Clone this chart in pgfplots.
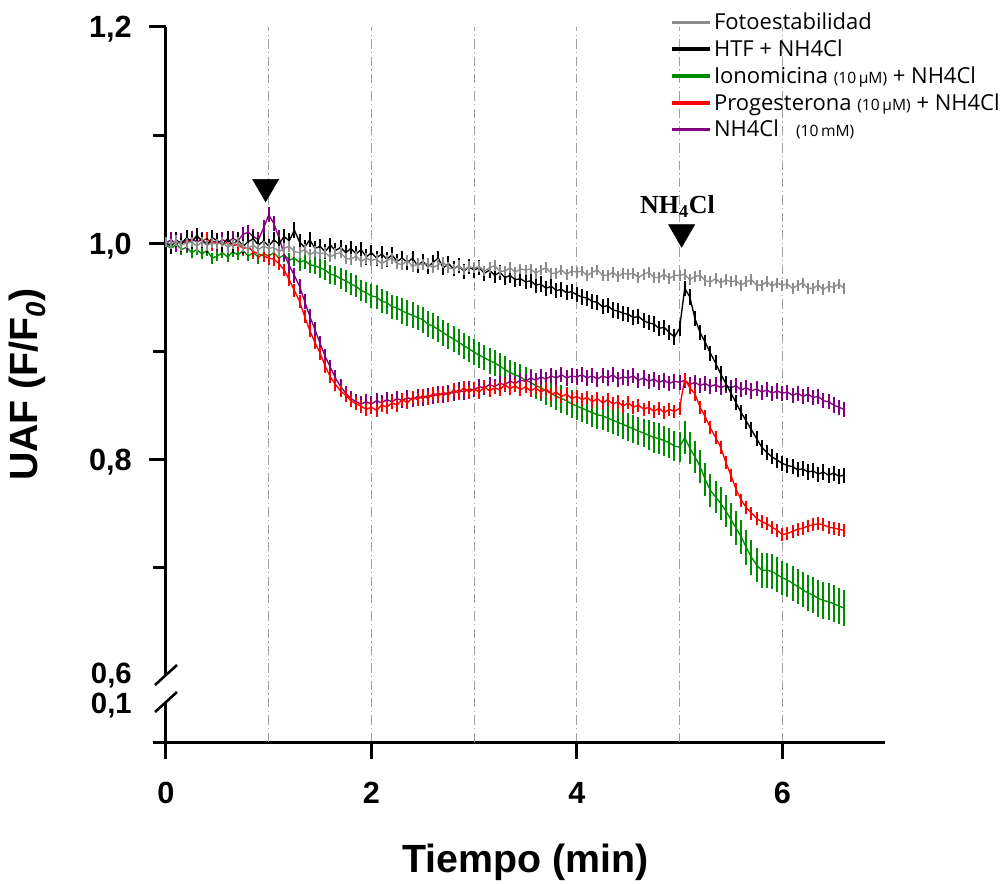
\documentclass[border=0pt]{standalone}
\usepackage{fontspec}
\setmainfont{Liberation Sans}
\newfontfamily\legfont{Open Sans}
\newfontfamily\serifb{Liberation Serif}
\usepackage{pgfplots}
\usepackage{pgfplotstable}
\pgfplotsset{compat=1.18}

\definecolor{cgray}{RGB}{140,140,140}
\definecolor{cgreen}{RGB}{0,140,0}
\definecolor{cred}{RGB}{255,0,0}
\definecolor{cpurple}{RGB}{128,0,128}

% Fotoestabilidad
\pgfplotstableread{
x y
0.00 1.001
0.05 0.999
0.10 1.002
0.15 0.998
0.20 1.000
0.25 1.001
0.30 0.997
0.35 1.001
0.40 0.998
0.45 1.000
0.50 0.999
0.55 1.001
0.60 0.996
0.65 0.999
0.70 1.001
0.75 0.997
0.80 0.995
0.85 0.998
0.90 0.994
0.95 0.997
1.00 0.995
1.05 0.996
1.10 0.992
1.15 0.995
1.20 0.997
1.25 0.992
1.30 0.991
1.35 0.994
1.40 0.989
1.45 0.992
1.50 0.990
1.55 0.991
1.60 0.987
1.65 0.990
1.70 0.991
1.75 0.986
1.80 0.985
1.85 0.988
1.90 0.983
1.95 0.986
2.00 0.984
2.05 0.985
2.10 0.981
2.15 0.984
2.20 0.986
2.25 0.981
2.30 0.980
2.35 0.984
2.40 0.978
2.45 0.981
2.50 0.980
2.55 0.981
2.60 0.977
2.65 0.980
2.70 0.982
2.75 0.977
2.80 0.976
2.85 0.979
2.90 0.975
2.95 0.978
3.00 0.977
3.05 0.978
3.10 0.974
3.15 0.977
3.20 0.979
3.25 0.974
3.30 0.974
3.35 0.977
3.40 0.973
3.45 0.976
3.50 0.975
3.55 0.976
3.60 0.972
3.65 0.975
3.70 0.977
3.75 0.972
3.80 0.972
3.85 0.975
3.90 0.971
3.95 0.974
4.00 0.973
4.05 0.974
4.10 0.970
4.15 0.973
4.20 0.975
4.25 0.970
4.30 0.970
4.35 0.973
4.40 0.969
4.45 0.972
4.50 0.971
4.55 0.972
4.60 0.968
4.65 0.971
4.70 0.973
4.75 0.968
4.80 0.968
4.85 0.971
4.90 0.967
4.95 0.970
5.00 0.970
5.05 0.971
5.10 0.966
5.15 0.969
5.20 0.970
5.25 0.965
5.30 0.964
5.35 0.967
5.40 0.963
5.45 0.966
5.50 0.964
5.55 0.965
5.60 0.961
5.65 0.964
5.70 0.966
5.75 0.961
5.80 0.961
5.85 0.964
5.90 0.960
5.95 0.963
6.00 0.961
6.05 0.962
6.10 0.958
6.15 0.961
6.20 0.963
6.25 0.958
6.30 0.958
6.35 0.961
6.40 0.957
6.45 0.960
6.50 0.959
6.55 0.962
6.60 0.958
}\grayT

% HTF + NH4Cl
\pgfplotstableread{
x y
0.00 1.000
0.05 0.997
0.10 1.003
0.15 0.999
0.20 1.005
0.25 1.001
0.30 1.007
0.35 1.002
0.40 0.998
0.45 1.005
0.50 1.002
0.55 0.999
0.60 1.004
0.65 0.998
0.70 1.003
0.75 0.997
0.80 1.001
0.85 1.004
0.90 0.998
0.95 1.002
1.00 0.997
1.05 1.003
1.10 0.999
1.15 1.006
1.20 1.002
1.25 1.012
1.30 1.001
1.35 0.996
1.40 1.003
1.45 0.995
1.50 0.997
1.55 0.992
1.60 0.998
1.65 0.993
1.70 0.996
1.75 0.991
1.80 0.995
1.85 0.990
1.90 0.994
1.95 0.987
2.00 0.991
2.05 0.986
2.10 0.990
2.15 0.985
2.20 0.989
2.25 0.983
2.30 0.986
2.35 0.982
2.40 0.986
2.45 0.979
2.50 0.983
2.55 0.978
2.60 0.982
2.65 0.986
2.70 0.977
2.75 0.981
2.80 0.976
2.85 0.979
2.90 0.974
2.95 0.978
3.00 0.975
3.05 0.977
3.10 0.972
3.15 0.975
3.20 0.970
3.25 0.973
3.30 0.968
3.35 0.970
3.40 0.966
3.45 0.967
3.50 0.964
3.55 0.965
3.60 0.961
3.65 0.962
3.70 0.958
3.75 0.960
3.80 0.956
3.85 0.957
3.90 0.954
3.95 0.955
4.00 0.952
4.05 0.950
4.10 0.949
4.15 0.946
4.20 0.945
4.25 0.941
4.30 0.942
4.35 0.938
4.40 0.937
4.45 0.935
4.50 0.934
4.55 0.931
4.60 0.932
4.65 0.928
4.70 0.926
4.75 0.925
4.80 0.921
4.85 0.922
4.90 0.917
4.95 0.913
5.00 0.921
5.05 0.958
5.10 0.950
5.15 0.930
5.20 0.917
5.25 0.908
5.30 0.898
5.35 0.889
5.40 0.879
5.45 0.870
5.50 0.861
5.55 0.852
5.60 0.843
5.65 0.835
5.70 0.827
5.75 0.819
5.80 0.811
5.85 0.806
5.90 0.802
5.95 0.799
6.00 0.796
6.05 0.794
6.10 0.793
6.15 0.790
6.20 0.791
6.25 0.788
6.30 0.789
6.35 0.786
6.40 0.788
6.45 0.785
6.50 0.787
6.55 0.784
6.60 0.785
}\blackT

% Ionomicina (10 uM) + NH4Cl, with its own error
\pgfplotstableread{
x y e
0.00 0.998 0.004
0.05 0.995 0.004
0.10 0.999 0.004
0.15 0.994 0.005
0.20 0.996 0.005
0.25 0.991 0.005
0.30 0.994 0.005
0.35 0.990 0.005
0.40 0.993 0.005
0.45 0.986 0.005
0.50 0.988 0.005
0.55 0.991 0.005
0.60 0.987 0.005
0.65 0.992 0.005
0.70 0.989 0.005
0.75 0.993 0.005
0.80 0.988 0.005
0.85 0.991 0.006
0.90 0.987 0.006
0.95 0.990 0.006
1.00 0.988 0.006
1.05 0.991 0.006
1.10 0.986 0.007
1.15 0.989 0.007
1.20 0.984 0.007
1.25 0.986 0.007
1.30 0.982 0.008
1.35 0.984 0.008
1.40 0.980 0.008
1.45 0.979 0.008
1.50 0.977 0.009
1.55 0.975 0.009
1.60 0.971 0.009
1.65 0.970 0.009
1.70 0.967 0.010
1.75 0.965 0.010
1.80 0.962 0.010
1.85 0.960 0.010
1.90 0.956 0.010
1.95 0.954 0.010
2.00 0.951 0.011
2.05 0.950 0.011
2.10 0.946 0.011
2.15 0.945 0.011
2.20 0.941 0.011
2.25 0.940 0.011
2.30 0.937 0.012
2.35 0.935 0.012
2.40 0.933 0.012
2.45 0.931 0.012
2.50 0.929 0.012
2.55 0.925 0.012
2.60 0.923 0.012
2.65 0.920 0.012
2.70 0.917 0.012
2.75 0.914 0.012
2.80 0.911 0.012
2.85 0.908 0.012
2.90 0.905 0.012
2.95 0.902 0.012
3.00 0.899 0.012
3.05 0.896 0.012
3.10 0.894 0.012
3.15 0.891 0.012
3.20 0.889 0.012
3.25 0.886 0.012
3.30 0.883 0.012
3.35 0.880 0.012
3.40 0.878 0.012
3.45 0.876 0.012
3.50 0.873 0.012
3.55 0.871 0.012
3.60 0.868 0.012
3.65 0.866 0.012
3.70 0.863 0.013
3.75 0.861 0.013
3.80 0.858 0.013
3.85 0.856 0.013
3.90 0.854 0.013
3.95 0.851 0.013
4.00 0.849 0.013
4.05 0.847 0.013
4.10 0.845 0.013
4.15 0.843 0.013
4.20 0.841 0.013
4.25 0.840 0.013
4.30 0.838 0.013
4.35 0.836 0.013
4.40 0.834 0.013
4.45 0.832 0.013
4.50 0.830 0.013
4.55 0.828 0.013
4.60 0.826 0.013
4.65 0.824 0.013
4.70 0.822 0.014
4.75 0.820 0.014
4.80 0.819 0.014
4.85 0.817 0.014
4.90 0.815 0.014
4.95 0.812 0.014
5.00 0.811 0.014
5.05 0.820 0.015
5.10 0.810 0.015
5.15 0.802 0.015
5.20 0.793 0.015
5.25 0.781 0.015
5.30 0.771 0.015
5.35 0.765 0.015
5.40 0.759 0.015
5.45 0.752 0.015
5.50 0.744 0.015
5.55 0.736 0.016
5.60 0.728 0.016
5.65 0.718 0.016
5.70 0.709 0.016
5.75 0.702 0.016
5.80 0.697 0.016
5.85 0.697 0.016
5.90 0.696 0.016
5.95 0.693 0.016
6.00 0.690 0.016
6.05 0.688 0.016
6.10 0.685 0.016
6.15 0.682 0.016
6.20 0.679 0.016
6.25 0.676 0.017
6.30 0.674 0.017
6.35 0.671 0.017
6.40 0.669 0.017
6.45 0.668 0.017
6.50 0.666 0.017
6.55 0.664 0.017
6.60 0.662 0.017
}\greenT

% Progesterona (10 uM) + NH4Cl
\pgfplotstableread{
x y
0.00 1.000
0.05 0.998
0.10 1.002
0.15 0.999
0.20 1.003
0.25 1.001
0.30 1.006
0.35 1.002
0.40 1.004
0.45 0.999
0.50 1.002
0.55 0.998
0.60 1.001
0.65 0.997
0.70 0.999
0.75 0.995
0.80 0.996
0.85 0.992
0.90 0.990
0.95 0.988
1.00 0.986
1.05 0.985
1.10 0.981
1.15 0.975
1.20 0.966
1.25 0.956
1.30 0.946
1.35 0.932
1.40 0.919
1.45 0.908
1.50 0.898
1.55 0.886
1.60 0.876
1.65 0.869
1.70 0.863
1.75 0.859
1.80 0.854
1.85 0.851
1.90 0.849
1.95 0.846
2.00 0.848
2.05 0.845
2.10 0.850
2.15 0.848
2.20 0.852
2.25 0.850
2.30 0.855
2.35 0.852
2.40 0.857
2.45 0.855
2.50 0.859
2.55 0.856
2.60 0.861
2.65 0.858
2.70 0.862
2.75 0.859
2.80 0.864
2.85 0.861
2.90 0.866
2.95 0.862
3.00 0.865
3.05 0.862
3.10 0.867
3.15 0.863
3.20 0.866
3.25 0.864
3.30 0.869
3.35 0.865
3.40 0.868
3.45 0.864
3.50 0.867
3.55 0.863
3.60 0.866
3.65 0.862
3.70 0.865
3.75 0.860
3.80 0.862
3.85 0.858
3.90 0.860
3.95 0.856
4.00 0.858
4.05 0.855
4.10 0.857
4.15 0.853
4.20 0.856
4.25 0.852
4.30 0.855
4.35 0.851
4.40 0.853
4.45 0.849
4.50 0.852
4.55 0.848
4.60 0.850
4.65 0.846
4.70 0.848
4.75 0.844
4.80 0.847
4.85 0.843
4.90 0.846
4.95 0.844
5.00 0.847
5.05 0.874
5.10 0.866
5.15 0.860
5.20 0.848
5.25 0.839
5.30 0.829
5.35 0.820
5.40 0.811
5.45 0.797
5.50 0.785
5.55 0.772
5.60 0.762
5.65 0.755
5.70 0.750
5.75 0.745
5.80 0.742
5.85 0.740
5.90 0.737
5.95 0.734
6.00 0.730
6.05 0.731
6.10 0.733
6.15 0.735
6.20 0.736
6.25 0.738
6.30 0.739
6.35 0.740
6.40 0.739
6.45 0.737
6.50 0.736
6.55 0.735
6.60 0.734
}\redT

% NH4Cl (10 mM)
\pgfplotstableread{
x y
0.00 1.000
0.05 1.003
0.10 0.999
0.15 1.002
0.20 1.000
0.25 1.004
0.30 1.001
0.35 1.003
0.40 0.999
0.45 1.002
0.50 1.000
0.55 1.003
0.60 1.001
0.65 1.004
0.70 1.002
0.75 1.008
0.80 1.010
0.85 1.006
0.90 1.003
0.95 1.014
1.00 1.026
1.05 1.018
1.10 1.005
1.15 0.990
1.20 0.979
1.25 0.970
1.30 0.960
1.35 0.946
1.40 0.932
1.45 0.920
1.50 0.907
1.55 0.895
1.60 0.885
1.65 0.875
1.70 0.867
1.75 0.861
1.80 0.856
1.85 0.853
1.90 0.851
1.95 0.853
2.00 0.851
2.05 0.854
2.10 0.852
2.15 0.855
2.20 0.853
2.25 0.856
2.30 0.854
2.35 0.857
2.40 0.855
2.45 0.858
2.50 0.856
2.55 0.859
2.60 0.858
2.65 0.861
2.70 0.859
2.75 0.862
2.80 0.861
2.85 0.864
2.90 0.862
2.95 0.865
3.00 0.864
3.05 0.867
3.10 0.866
3.15 0.869
3.20 0.867
3.25 0.870
3.30 0.869
3.35 0.872
3.40 0.870
3.45 0.873
3.50 0.872
3.55 0.875
3.60 0.873
3.65 0.876
3.70 0.874
3.75 0.877
3.80 0.875
3.85 0.878
3.90 0.875
3.95 0.877
4.00 0.876
4.05 0.878
4.10 0.875
4.15 0.877
4.20 0.874
4.25 0.877
4.30 0.875
4.35 0.878
4.40 0.874
4.45 0.876
4.50 0.875
4.55 0.877
4.60 0.873
4.65 0.875
4.70 0.872
4.75 0.874
4.80 0.871
4.85 0.873
4.90 0.870
4.95 0.872
5.00 0.871
5.05 0.873
5.10 0.869
5.15 0.871
5.20 0.868
5.25 0.870
5.30 0.867
5.35 0.869
5.40 0.866
5.45 0.868
5.50 0.866
5.55 0.868
5.60 0.864
5.65 0.866
5.70 0.863
5.75 0.865
5.80 0.862
5.85 0.864
5.90 0.861
5.95 0.863
6.00 0.861
6.05 0.862
6.10 0.859
6.15 0.861
6.20 0.858
6.25 0.860
6.30 0.857
6.35 0.858
6.40 0.854
6.45 0.853
6.50 0.850
6.55 0.848
6.60 0.846
}\purpleT

\begin{document}
\begin{tikzpicture}
\begin{axis}[
    scale only axis,
    width=539.25pt, height=536.25pt,
    xmin=0, xmax=7.0,
    ymin=0.538, ymax=1.2,
    clip=false,
    axis lines=left,
    axis line style={-, line width=2.25pt},
    tick align=outside,
    major tick length=12.75pt,
    minor tick length=9.75pt,
    tick style={line width=2.25pt, black},
    xtick={0,2,4,6},
    ytick={0.8,1.0,1.2},
    yticklabels={{0,8},{1,0},{1,2}},
    minor ytick={0.7,0.9,1.1},
    extra y ticks={0.6015,0.574},
    extra y tick labels={{0,6},{0,1}},
    extra y tick style={tick style={draw=none},
        yticklabel style={font=\fontsize{22}{22}\selectfont\bfseries, text height=15.5pt}},
    extra x ticks={1,3,5},
    extra x tick labels={},
    extra x tick style={grid=major, major tick length=0pt},
    xmajorgrids,
    grid style={draw=gray!75, line width=0.75pt, dash pattern=on 7pt off 2.5pt on 1pt off 2.5pt},
    /pgf/number format/assume math mode=true,
    ticklabel style={font=\fontsize{23}{23}\selectfont\bfseries},
    yticklabel style={inner sep=0pt, xshift=-12.75pt, text height=16.5pt, text depth=0pt},
    xticklabel style={inner sep=0pt, yshift=-17pt},
    xlabel={Tiempo (min)},
    ylabel={UAF (F/F\textsubscript{\itshape 0})},
    label style={font=\fontsize{29.5}{30}\selectfont\bfseries},
    xlabel style={at={([yshift=-98pt]rel axis cs:0.5,0)}, anchor=base, inner sep=0pt},
    ylabel style={at={([xshift=-90pt]rel axis cs:0,0.5)}, anchor=south, inner sep=0pt},
    legend style={at={(rel axis cs:0.701,1.0224)}, anchor=north west,
        draw=none, fill=none, inner sep=0pt,
        font=\legfont\fontsize{16.5}{17}\selectfont,
        row sep=3pt,
        nodes={inner sep=1.5pt}},
    legend cell align=left,
    legend image code/.code={\draw[line width=2.8pt] (0pt,0pt) -- (28.5pt,0pt);},
]
\addlegendimage{cgray}
\addlegendentry{Fotoestabilidad}
\addlegendimage{black}
\addlegendentry{HTF + NH4Cl}
\addlegendimage{cgreen}
\addlegendentry{Ionomicina {\fontsize{11.7}{12}\selectfont(10\,µM)} + NH4Cl}
\addlegendimage{cred}
\addlegendentry{Progesterona {\fontsize{11.7}{12}\selectfont(10\,µM)} + NH4Cl}
\addlegendimage{cpurple}
\addlegendentry{NH4Cl\ \ \ {\fontsize{11.7}{12}\selectfont(10\,mM)}}

\addplot[cgreen, line width=1pt, forget plot,
    error bars/.cd, y dir=both, y explicit, error mark=none,
    error bar style={line width=1.5pt, cgreen}]
    table[x=x, y=y, y error=e] {\greenT};
\addplot[cpurple, line width=1pt, forget plot,
    error bars/.cd, y dir=both, y fixed=0.007, error mark=none,
    error bar style={line width=1.5pt, cpurple}]
    table[x=x, y=y] {\purpleT};
\addplot[cred, line width=1pt, forget plot,
    error bars/.cd, y dir=both, y fixed=0.006, error mark=none,
    error bar style={line width=1.5pt, cred}]
    table[x=x, y=y] {\redT};
\addplot[black, line width=1pt, forget plot,
    error bars/.cd, y dir=both, y fixed=0.007, error mark=none,
    error bar style={line width=1.5pt, black}]
    table[x=x, y=y] {\blackT};
\addplot[cgray, line width=1pt, forget plot,
    error bars/.cd, y dir=both, y fixed=0.005, error mark=none,
    error bar style={line width=1.5pt, cgray}]
    table[x=x, y=y] {\grayT};

% arrows marking the additions
\addplot[only marks, forget plot, mark=triangle*, mark size=11.25pt,
    mark options={rotate=180, fill=black, draw=black}]
    coordinates {(0.97,1.052) (5.02,1.010)};
\node[font=\serifb\bfseries\fontsize{19.5}{20}\selectfont] at (axis cs:4.98,1.034) {NH\textsubscript{4}Cl};
\end{axis}

% axis break and left stub of the x axis
\fill[white] (-2pt,30pt) rectangle (2pt,50.25pt);
\draw[line width=1.9pt] (-8.25pt,42.75pt) -- (8.25pt,57.75pt);
\draw[line width=1.9pt] (-8.25pt,22.5pt) -- (8.25pt,37.5pt);
\draw[line width=2.25pt] (-9.75pt,0pt) -- (0pt,0pt);

\pgfresetboundingbox
\path (-124.5pt,-105.75pt) rectangle ++(752.25pt,662.25pt);
\end{tikzpicture}
\end{document}
